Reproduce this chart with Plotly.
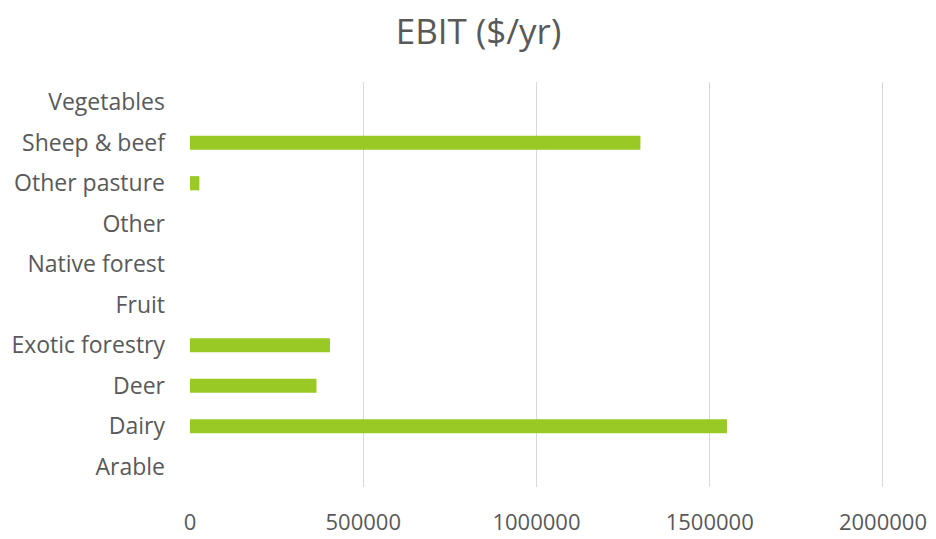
import plotly.graph_objects as go

categories = ["Arable", "Dairy", "Deer", "Exotic forestry", "Fruit", "Native forest",
              "Other", "Other pasture", "Sheep & beef", "Vegetables"]
ebit = [0, 1550000, 365000, 404000, 0, 0, 0, 27000, 1300000, 0]
tick_vals = [0, 500000, 1000000, 1500000, 2000000]
tick_text = ["0", "500000", "1000000", "1500000", "2000000"]

fig = go.Figure(go.Bar(
    y=categories, x=ebit, orientation="h",
    marker=dict(color="#99C925", line=dict(width=0)),
    width=0.35,
))

# page body has an 8px margin, so the figure is sized/offset to compensate
fig.update_layout(
    width=928, height=531,
    paper_bgcolor="white", plot_bgcolor="white",
    margin=dict(l=182, r=52, t=74, b=52, autoexpand=False),
    title=dict(text="EBIT ($/yr)", x=0.507, xanchor="center", y=0.9545, yanchor="middle",
               font=dict(family="Open Sans", size=35, color="#595959")),
    font=dict(family="Open Sans", size=16, color="#595959"),
    showlegend=False,
    bargap=0.65,
)
fig.update_xaxes(range=[0, 2003000], tickvals=tick_vals, ticktext=tick_text,
                 showgrid=True, gridcolor="#D9D9D9", gridwidth=1.3,
                 zeroline=False, showline=False, ticks="", ticklabelstandoff=20,
                 automargin=False,
                 tickfont=dict(size=22, color="#595959"))
fig.update_yaxes(categoryorder="array", categoryarray=categories,
                 showgrid=False, zeroline=False, showline=False, ticks="",
                 ticklabelstandoff=24, automargin=False,
                 tickfont=dict(size=23, color="#595959"))

fig.write_html("out.html")
